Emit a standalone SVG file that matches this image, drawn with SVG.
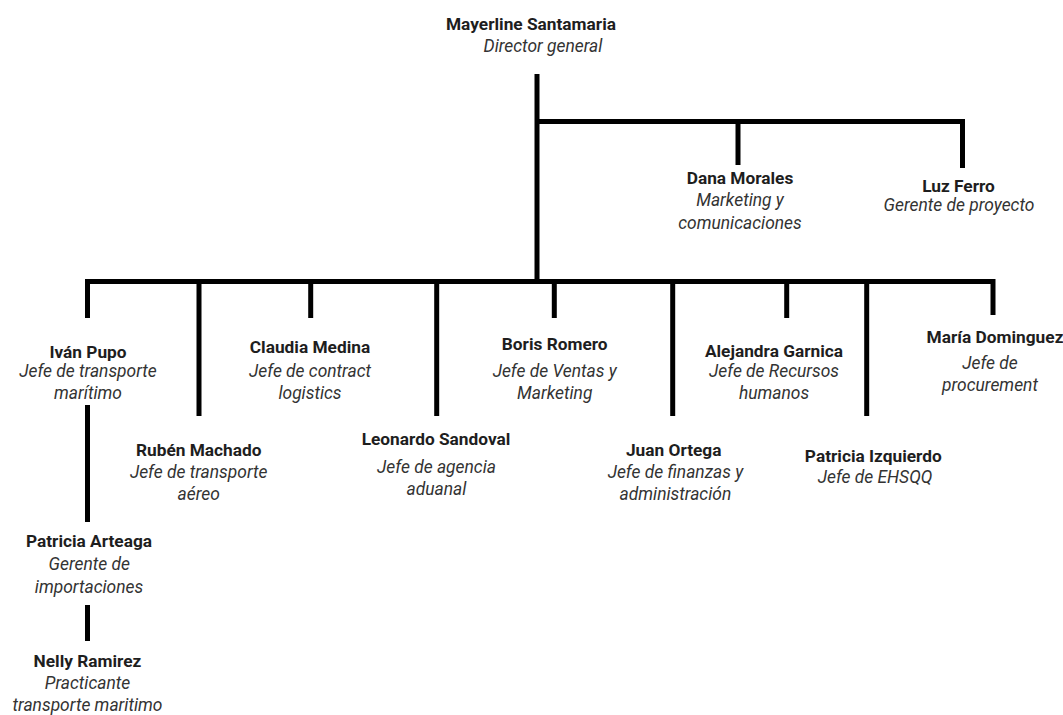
<svg xmlns="http://www.w3.org/2000/svg" width="1063" height="715" viewBox="0 0 1063 715">
<style>
.n{font-family:Roboto,"Liberation Sans",sans-serif;font-weight:bold;font-size:17.3px;fill:#1e1e1e;text-anchor:middle}
.t{font-family:Roboto,"Liberation Sans",sans-serif;font-style:italic;font-size:17.4px;fill:#333;text-anchor:middle}
.c{fill:none;stroke:#000;stroke-width:5;stroke-linejoin:miter}
</style>
<rect width="1063" height="715" fill="#fff"/>
<g id="connectors">
<path class="c" d="M537 74V283.5"/>
<path class="c" d="M537 121.5H962.5V168"/>
<path class="c" d="M738 121.5V165"/>
<path class="c" d="M87.5 318V281.5H993V315"/>
<path class="c" d="M199 281.5V416"/>
<path class="c" d="M310.7 281.5V318"/>
<path class="c" d="M436.7 281.5V416"/>
<path class="c" d="M554.3 281.5V318"/>
<path class="c" d="M672.7 281.5V416"/>
<path class="c" d="M786.7 281.5V318"/>
<path class="c" d="M866.7 281.5V416"/>
<path class="c" d="M87.5 405V522"/>
<path class="c" d="M87.5 605V641"/>
</g>
<g id="mayerline"><text class="n" x="531" y="30">Mayerline Santamaria</text><text class="t" x="543" y="52">Director general</text></g>
<g id="dana"><text class="n" x="740" y="184">Dana Morales</text><text class="t" x="740" y="206">Marketing y</text><text class="t" x="740" y="229">comunicaciones</text></g>
<g id="luz"><text class="n" x="958.5" y="192">Luz Ferro</text><text class="t" x="959" y="211">Gerente de proyecto</text></g>
<g id="ivan"><text class="n" x="88" y="358">Iván Pupo</text><text class="t" x="88" y="377">Jefe de transporte</text><text class="t" x="88" y="399">marítimo</text></g>
<g id="claudia"><text class="n" x="310" y="353">Claudia Medina</text><text class="t" x="310" y="377">Jefe de contract</text><text class="t" x="310" y="399">logistics</text></g>
<g id="boris"><text class="n" x="554.7" y="350">Boris Romero</text><text class="t" x="554.7" y="377">Jefe de Ventas y</text><text class="t" x="554.7" y="399">Marketing</text></g>
<g id="alejandra"><text class="n" x="774" y="357">Alejandra Garnica</text><text class="t" x="774" y="377">Jefe de Recursos</text><text class="t" x="774" y="399">humanos</text></g>
<g id="maria"><text class="n" x="995" y="343">María Dominguez</text><text class="t" x="990" y="369">Jefe de</text><text class="t" x="990" y="391">procurement</text></g>
<g id="ruben"><text class="n" x="198.7" y="455.5">Rubén Machado</text><text class="t" x="198.7" y="478">Jefe de transporte</text><text class="t" x="198.7" y="500">aéreo</text></g>
<g id="leonardo"><text class="n" x="436" y="445">Leonardo Sandoval</text><text class="t" x="436.5" y="472.5">Jefe de agencia</text><text class="t" x="436.5" y="495">aduanal</text></g>
<g id="juan"><text class="n" x="673.7" y="456">Juan Ortega</text><text class="t" x="675.4" y="477.5">Jefe de finanzas y</text><text class="t" x="675.4" y="500">administración</text></g>
<g id="patricia-izquierdo"><text class="n" x="873.3" y="461.5">Patricia Izquierdo</text><text class="t" x="875" y="483">Jefe de EHSQQ</text></g>
<g id="patricia-arteaga"><text class="n" x="89" y="547">Patricia Arteaga</text><text class="t" x="89.3" y="570">Gerente de</text><text class="t" x="89" y="592.5">importaciones</text></g>
<g id="nelly"><text class="n" x="87.5" y="667">Nelly Ramirez</text><text class="t" x="87.5" y="688.5">Practicante</text><text class="t" x="87.5" y="710.5">transporte maritimo</text></g>
</svg>
